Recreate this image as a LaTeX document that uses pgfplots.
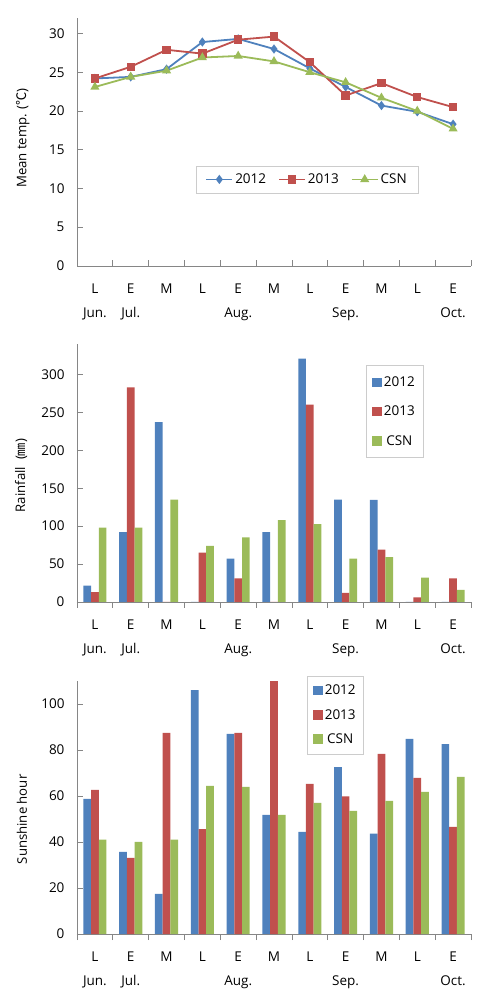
\documentclass[border=0pt]{standalone}
\usepackage{fontspec}
\setmainfont{Open Sans}
\newfontfamily\cjk{Noto Sans CJK KR}
\usepackage{pgfplots}
\pgfplotsset{compat=1.18}
\definecolor{c12}{HTML}{4F81BD}
\definecolor{c13}{HTML}{C0504D}
\definecolor{cCSN}{HTML}{9BBB59}
\definecolor{axgray}{HTML}{868686}
\pgfplotsset{
 mybase/.style={
  scale only axis, width=394pt,
  xmin=-0.5, xmax=10.5,
  axis x line*=bottom, axis y line*=left,
  axis line style={axgray, line width=0.8pt},
  xtick={-0.5,0.5,1.5,2.5,3.5,4.5,5.5,6.5,7.5,8.5,9.5,10.5},
  xticklabels=\empty,
  extra x ticks={0,1,2,3,4,5,6,7,8,9,10},
  extra x tick labels={{L\\Jun.},{E\\Jul.},M,L,{E\\Aug.},M,L,{E\\Sep.},M,L,{E\\Oct.}},
  extra x tick style={major tick length=0pt, xticklabel style={align=center, font=\fontsize{13.5}{24}\selectfont, anchor=north, yshift=-14pt}},
  tick align=inside,
  tick style={axgray, line width=0.8pt},
  major tick length=6pt,
  yticklabel={\pgfmathprintnumber{\tick}\hspace*{9pt}},
  yticklabel style={font=\fontsize{13.5}{16}\selectfont},
  /pgf/number format/assume math mode=true,
  ylabel style={font=\fontsize{13.2}{16}\selectfont, anchor=center},
  clip=false,
  legend style={draw=black!20, font=\fontsize{13.5}{16}\selectfont},
 },
 barbase/.style={
  mybase, ybar=0pt, bar width=7.7pt,
  legend image code/.code={\fill[##1] (0pt,-4.7pt) rectangle (9.5pt,4.7pt);},
 },
 linelegend/.style={
  legend image code/.code={\draw[mark repeat=2,mark phase=2,##1] plot coordinates {(0pt,0pt) (13pt,0pt) (26pt,0pt)};},
 }
}
\begin{document}
\begin{tikzpicture}
\useasboundingbox (0,0) rectangle (482pt,997pt);
% ---------- Panel 1 ----------
\begin{axis}[mybase, linelegend, at={(77pt,731pt)}, anchor=south west, height=248pt,
  ymin=0, ymax=32, ytick={0,5,10,15,20,25,30},
  ylabel={Mean temp. ({\cjk ℃})},
  ylabel style={at={(axis description cs:-0.137,0.516)}},
  legend columns=3,
  legend style={at={(0.584,0.349)}, anchor=center, inner xsep=9pt, inner ysep=6pt,
    /tikz/every even column/.append style={column sep=10pt}}]
\addplot[c12, line width=1.8pt, mark=diamond*, mark size=3.2pt, mark options={solid}] coordinates {
(0,24.2) (1,24.4) (2,25.4) (3,28.9) (4,29.3) (5,28.0) (6,25.5) (7,23.1) (8,20.7) (9,19.9) (10,18.3)};
\addplot[c13, line width=1.8pt, mark=square*, mark size=3.3pt] coordinates {
(0,24.2) (1,25.7) (2,27.9) (3,27.4) (4,29.2) (5,29.6) (6,26.3) (7,22.0) (8,23.6) (9,21.8) (10,20.5)};
\addplot[cCSN, line width=1.8pt, mark=triangle*, mark size=3.5pt] coordinates {
(0,23.1) (1,24.4) (2,25.2) (3,26.9) (4,27.1) (5,26.4) (6,25.0) (7,23.7) (8,21.7) (9,20.0) (10,17.7)};
\legend{2012,2013,CSN}
\end{axis}
% ---------- Panel 2 ----------
\begin{axis}[barbase, at={(77pt,395pt)}, anchor=south west, height=258pt,
  ymin=0, ymax=340, ytick={0,50,100,150,200,250,300},
  ylabel={Rainfall\ \ ({\cjk ㎜})},
  ylabel style={at={(axis description cs:-0.142,0.49)}},
  legend style={at={(0.806,0.738)}, anchor=center, inner xsep=6pt, inner ysep=9pt, row sep=14pt}]
\addplot[fill=c12, draw=none] coordinates {
(0,21.5) (1,92) (2,237) (3,0) (4,57) (5,92) (6,320.6) (7,135) (8,134.5) (9,0) (10,0)};
\addplot[fill=c13, draw=none] coordinates {
(0,13) (1,283) (2,0) (3,65) (4,31) (5,0) (6,260) (7,12) (8,69) (9,6) (10,31)};
\addplot[fill=cCSN, draw=none] coordinates {
(0,98) (1,98) (2,135) (3,74) (4,85) (5,108) (6,102.5) (7,57) (8,59) (9,32) (10,16)};
\legend{2012,2013,CSN}
\end{axis}
% ---------- Panel 3 ----------
\begin{axis}[barbase, at={(77pt,63pt)}, anchor=south west, height=253pt,
  ymin=0, ymax=110, ytick={0,20,40,60,80,100},
  ylabel={Sunshine hour},
  ylabel style={at={(axis description cs:-0.14,0.453)}},
  legend style={at={(0.656,0.866)}, anchor=center, inner xsep=6pt, inner ysep=7pt, row sep=9pt}]
\addplot[fill=c12, draw=none] coordinates {
(0,58.8) (1,35.7) (2,17.5) (3,106) (4,87) (5,51.8) (6,44.4) (7,72.6) (8,43.6) (9,84.8) (10,82.6)};
\addplot[fill=c13, draw=none] coordinates {
(0,62.7) (1,33.1) (2,87.4) (3,45.6) (4,87.4) (5,110) (6,65.3) (7,59.8) (8,78.3) (9,67.9) (10,46.6)};
\addplot[fill=cCSN, draw=none] coordinates {
(0,41) (1,40.1) (2,41) (3,64.4) (4,64) (5,51.8) (6,57) (7,53.5) (8,57.9) (9,61.8) (10,68.3)};
\legend{2012,2013,CSN}
\end{axis}
\end{tikzpicture}
\end{document}
